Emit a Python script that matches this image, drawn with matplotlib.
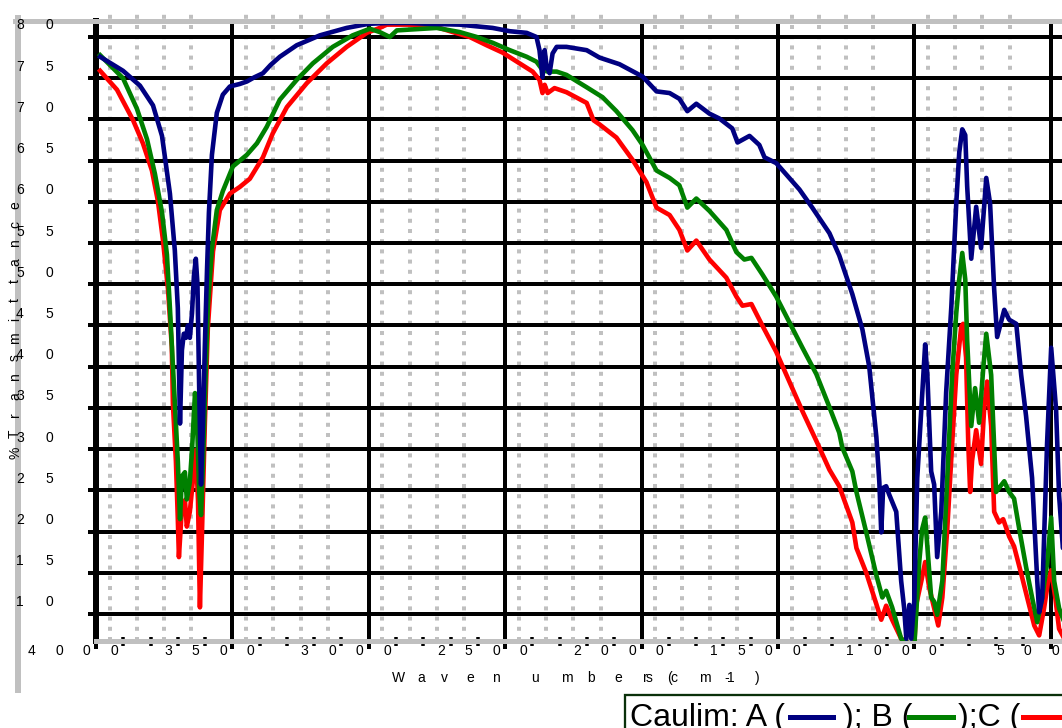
import matplotlib
matplotlib.use('Agg')
import matplotlib.pyplot as plt
import matplotlib.transforms as mtransforms
from matplotlib.lines import Line2D
from matplotlib.patches import Rectangle

plt.rcParams['font.family'] = ['Liberation Sans', 'DejaVu Sans']

# ---------------- data (wavenumber cm-1, %T) ----------------
wn_A = [3985, 3901, 3839, 3791, 3758, 3729, 3711, 3700, 3696, 3692, 3685, 3678, 3670, 3663,
        3656, 3648, 3641, 3634, 3628, 3622, 3615, 3608, 3601, 3593, 3586, 3575, 3557, 3535,
        3509, 3473, 3447, 3420, 3388, 3360, 3326, 3264, 3179, 3081, 3000, 2930, 2850, 2788,
        2667, 2546, 2483, 2421, 2385, 2374, 2366, 2363, 2355, 2348, 2337, 2326, 2311, 2275,
        2201, 2154, 2081, 1996, 1945, 1897, 1861, 1832, 1799, 1751, 1714, 1667, 1648, 1604,
        1568, 1549, 1506, 1469, 1421, 1374, 1311, 1275, 1227, 1190, 1165, 1139, 1128, 1121,
        1114, 1103, 1092, 1066, 1048, 1037, 1029, 1018, 1011, 1000, 989, 974, 960, 952, 938,
        927, 916, 901, 883, 864, 846, 835, 824, 813, 806, 791, 773, 755, 736, 722, 707, 696,
        670, 652, 626, 608, 590, 568, 549, 542, 531, 513, 498, 480, 469, 455, 430, 400]
T_A = [77.6, 75.9, 74.1, 71.7, 68.0, 61.0, 54.1, 47.1, 40.1, 33.1, 42.0, 44.0, 43.5, 45.0,
       43.5, 46.5, 51.0, 53.1, 50.0, 38.0, 25.7, 33.0, 42.4, 51.7, 58.7, 65.7, 70.8, 73.0,
       74.0, 74.3, 74.6, 75.1, 75.6, 76.6, 77.6, 79.0, 80.2, 81.1, 81.6, 81.7, 81.7, 81.6,
       81.5, 81.1, 80.7, 80.5, 80.0, 78.4, 76.0, 75.1, 78.4, 76.4, 75.6, 78.0, 78.8, 78.8,
       78.4, 77.5, 76.7, 75.2, 73.4, 73.2, 72.5, 71.0, 71.9, 70.7, 70.1, 68.9, 67.2, 68.0,
       66.9, 65.4, 64.7, 63.3, 61.5, 59.3, 56.2, 53.5, 48.8, 44.5, 40.0, 31.5, 26.0, 19.9,
       25.3, 25.5, 24.5, 22.4, 14.0, 10.7, 7.0, 11.1, 7.0, 11.5, 26.5, 34.8, 42.7, 39.0, 27.3,
       25.7, 16.9, 22.4, 36.9, 47.3, 59.8, 66.0, 68.8, 68.1, 61.9, 53.1, 59.4, 54.4, 62.9, 59.8, 49.4, 43.6,
       46.9, 45.7, 45.2, 39.0, 34.0, 26.5, 14.0, 10.2, 11.9, 30.7, 42.3, 34.8, 24.4, 18.0, 20.0, 25.0]

wn_B = [3985, 3901, 3850, 3813, 3784, 3758, 3740, 3729, 3718, 3707, 3700, 3692, 3685, 3674,
        3667, 3656, 3648, 3637, 3630, 3622, 3615, 3608, 3601, 3590, 3575, 3557, 3535, 3498,
        3447, 3410, 3374, 3326, 3264, 3205, 3132, 3059, 2996, 2960, 2923, 2897, 2850, 2751,
        2667, 2604, 2546, 2483, 2421, 2385, 2363, 2344, 2311, 2275, 2201, 2143, 2092, 2033,
        1996, 1945, 1897, 1861, 1832, 1799, 1751, 1689, 1652, 1623, 1597, 1557, 1506, 1458,
        1410, 1359, 1311, 1275, 1264, 1227, 1212, 1176, 1139, 1117, 1103, 1081, 1048, 1000,
        982, 971, 960, 952, 938, 927, 916, 897, 879, 861, 846, 835, 824, 813, 806, 791, 777,
        762, 747, 736, 718, 700, 689, 670, 652, 634, 615, 590, 568, 549, 531, 513, 498, 487,
        469, 450, 420, 400]
T_B = [77.8, 75.0, 71.3, 67.6, 63.4, 58.7, 53.6, 47.1, 40.1, 33.1, 28.5, 21.5, 26.7, 27.2,
       23.9, 26.0, 29.9, 36.8, 34.0, 25.0, 22.0, 28.0, 35.7, 47.3, 54.3, 59.0, 61.3, 64.3,
       65.7, 67.1, 69.1, 72.4, 74.8, 76.8, 78.8, 80.2, 81.0, 80.6, 80.0, 80.8, 80.9, 81.1,
       80.6, 80.0, 79.3, 78.4, 77.6, 77.0, 76.0, 75.8, 75.8, 75.4, 73.9, 72.7, 71.0, 68.7,
       66.9, 63.8, 62.9, 62.0, 59.3, 60.4, 58.9, 56.6, 53.9, 53.0, 53.2, 51.2, 48.5, 45.4,
       42.3, 39.1, 35.1, 32.0, 30.2, 27.3, 24.8, 19.9, 14.7, 12.0, 12.8, 10.8, 7.0, 6.0,
       16.2, 20.3, 21.7, 18.2, 12.0, 11.5, 9.9, 14.0, 26.5, 39.0, 46.5, 50.6, 53.8, 50.6, 43.2, 32.8, 37.4,
       33.2, 39.8, 44.0, 39.0, 24.8, 25.3, 26.1, 24.8, 24.0, 20.3, 15.7, 12.0, 9.0, 12.0, 16.1, 21.7, 14.0,
       10.7, 9.0, 12.0, 15.0]

wn_C = [3985, 3923, 3864, 3828, 3795, 3773, 3755, 3736, 3722, 3718, 3707, 3700, 3696, 3685,
        3674, 3667, 3656, 3645, 3634, 3626, 3619, 3612, 3601, 3590, 3571, 3546, 3509, 3473,
        3436, 3388, 3352, 3300, 3227, 3154, 3081, 3007, 2960, 2934, 2850, 2751, 2692, 2630,
        2568, 2509, 2447, 2399, 2374, 2363, 2355, 2344, 2319, 2275, 2201, 2176, 2154, 2092,
        2033, 1982, 1945, 1897, 1861, 1832, 1799, 1751, 1689, 1652, 1630, 1597, 1557, 1506,
        1458, 1410, 1359, 1311, 1275, 1227, 1212, 1176, 1139, 1121, 1103, 1081, 1048, 1000,
        993, 974, 960, 945, 927, 912, 897, 879, 861, 846, 828, 821, 810, 802, 795, 788, 773,
        755, 744, 733, 718, 707, 689, 674, 652, 634, 608, 586, 560, 542, 524, 509, 498, 483,
        469, 450, 420, 400]
T_C = [75.9, 73.6, 69.9, 67.1, 63.8, 60.1, 55.5, 49.4, 42.4, 35.5, 28.5, 21.5, 16.9, 22.9,
       23.8, 20.6, 22.4, 26.1, 29.9, 23.8, 10.8, 19.2, 33.0, 44.7, 54.0, 59.0, 61.0, 61.8,
       62.8, 65.4, 68.3, 71.5, 74.4, 76.8, 78.8, 80.5, 81.1, 81.5, 81.5, 81.2, 80.6, 80.0,
       79.0, 78.1, 76.8, 75.8, 74.8, 73.2, 74.2, 73.2, 73.8, 73.3, 72.0, 69.9, 69.4, 67.8,
       65.1, 62.4, 59.3, 58.4, 56.6, 54.1, 55.3, 53.0, 50.8, 48.5, 47.4, 47.6, 45.0, 41.8,
       38.2, 34.6, 31.0, 27.5, 25.5, 21.1, 18.0, 15.0, 11.2, 9.3, 11.0, 9.3, 7.0, 6.0,
       11.1, 14.0, 16.3, 13.2, 10.7, 8.6, 12.0, 20.3, 30.7, 39.0, 44.8, 45.2, 41.1, 30.7, 24.8, 28.6, 32.3,
       28.2, 34.8, 38.2, 32.8, 22.4, 21.1, 21.5, 19.4, 18.2, 14.9, 12.0, 8.6, 7.4, 10.7, 14.0, 15.3, 12.0,
       8.2, 7.0, 9.0, 12.0]

series_names = ['A', 'B', 'C']
series_colors = ['#000080', '#008000', '#ff0000']

x_major = [4000, 3500, 3000, 2500, 2000, 1500, 1000, 500]
x_minor = [3900, 3800, 3700, 3600, 3400, 3300, 3200, 3100, 2900, 2800, 2700, 2600,
           2400, 2300, 2200, 2100, 1900, 1800, 1700, 1600, 1400, 1300, 1200, 1100,
           900, 800, 700, 600]
x_dotted = [3950, 3850, 3750, 3650, 3450, 3350, 3250, 3150, 2950, 2850, 2750, 2650,
            2450, 2350, 2250, 2150, 1950, 1850, 1750, 1650, 1450, 1350, 1250, 1150,
            950, 850, 750, 650, 450]
y_ticks = [80, 75, 70, 65, 60, 55, 50, 45, 40, 35, 30, 25, 20, 15, 10]

xlabel_chars = [('W', 398), ('a', 421), ('v', 444), ('e', 470), ('n', 496), ('u', 535),
                ('m', 567), ('b', 591), ('e', 618), ('r', 645), ('s', 649), ('(', 670),
                ('c', 674), ('m', 705), ('-', 727), ('1', 731), (')', 757)]
ylabel_text = '%Transmittance'

# ---------------- figure ----------------
W, H = 1062, 728
fig = plt.figure(figsize=(W / 100, H / 100), dpi=100)


def fx(px):
    return px / W


def fy(py):
    return 1 - py / H


ax_l, ax_r, ax_t, ax_b = 96, 1077.9, 21, 641
ax = fig.add_axes([fx(ax_l), fy(ax_b), (ax_r - ax_l) / W, (ax_b - ax_t) / H])
ax.set_xlim(4000, 400)
ax.set_ylim(6.72, 81.94)
ax.set_axisbelow(True)

PX = 0.72  # points per pixel

# gray dotted vertical lines (extend above the plot)
ax.vlines(x_dotted, 0, 1.0194, transform=ax.get_xaxis_transform(), colors='#c0c0c0',
          linewidth=4 * PX, linestyles=(0, (1.0, 1.55)), clip_on=False, zorder=0.2)

# black major vertical lines
ax.vlines(x_major[1:], 0, 1, transform=ax.get_xaxis_transform(), colors='black',
          linewidth=4 * PX, zorder=0.6)

# horizontal grid
ax.set_yticks(y_ticks)
ax.yaxis.grid(True, color='black', linewidth=4 * PX)
ax.tick_params(axis='y', direction='out', length=8 * PX, width=4 * PX, color='black',
               labelleft=False)

ax.set_xticks(x_major)
ax.set_xticks(x_minor, minor=True)
ax.tick_params(axis='x', which='major', direction='out', length=8 * PX, width=4 * PX,
               color='black', labelbottom=False)
ax.tick_params(axis='x', which='minor', direction='inout', length=9 * PX, width=3.5 * PX,
               color='black')

for s in ['top', 'right']:
    ax.spines[s].set_visible(False)
ax.spines['bottom'].set_color('#c0c0c0')
ax.spines['bottom'].set_linewidth(5 * PX)
ax.spines['left'].set_color('black')
ax.spines['left'].set_linewidth(6 * PX)
ax.spines['left'].set_linestyle((0, (0.75, 0.42)))

# curves (C first so A is on top)
for wn, T, c in reversed(list(zip([wn_A, wn_B, wn_C], [T_A, T_B, T_C], series_colors))):
    ax.plot(wn, T, color=c, linewidth=4.6 * PX, solid_joinstyle='round', zorder=3)

# gray frame lines (under the texts, over the axes)
fig.add_artist(Line2D([fx(15), 1.0], [fy(21), fy(21)], transform=fig.transFigure,
                      color='#c0c0c0', linewidth=5 * PX, zorder=1))
fig.add_artist(Line2D([fx(18), fx(18)], [fy(18), fy(690)], transform=fig.transFigure,
                      color='#c0c0c0', linewidth=6 * PX, zorder=1))

# x tick labels: spaced digits
for v in x_major:
    s = str(v)
    n = len(s)
    for i, ch in enumerate(s):
        dx = -23 + (i - (n - 1) / 2) * 27.5
        tr = mtransforms.offset_copy(ax.get_xaxis_transform(), fig=fig, x=dx, y=0, units='dots')
        ax.text(v, (ax_b - 655) / (ax_b - ax_t), ch, transform=tr, ha='center', va='baseline',
                fontsize=10, color='black', clip_on=False)

# y tick labels: spaced digits, drawn at figure level so they sit above the gray frame
for v in y_ticks:
    s = str(v)
    y_disp = ax.transData.transform((4000, v))[1] + 7.5
    for ch, px in zip(s, [20, 49]):
        fig.text(fx(px), y_disp / H, ch, ha='center', va='baseline', fontsize=10,
                 color='black', zorder=3)

# x axis label
for ch, px in xlabel_chars:
    fig.text(fx(px), fy(682), ch, ha='center', va='baseline', fontsize=10, color='black')

# y axis label (rotated letters)
n = len(ylabel_text)
for i, ch in enumerate(ylabel_text):
    py = 453 - i * (453 - 205) / (n - 1)
    fig.text(fx(15), fy(py), ch, rotation=90, ha='center', va='center', fontsize=10,
             color='black', zorder=3)

# legend box (cropped at the figure edge)
fig.add_artist(Rectangle((fx(625), fy(760)), fx(1100) - fx(625), fy(695) - fy(760),
                         transform=fig.transFigure, facecolor='white', edgecolor='#0a300a',
                         linewidth=2.3 * PX, zorder=6))
fig.text(fx(630), fy(726), 'Caulim: A (', fontsize=23, ha='left', va='baseline', zorder=7)
fig.add_artist(Line2D([fx(790), fx(833)], [fy(717), fy(717)], transform=fig.transFigure,
                      color=series_colors[0], linewidth=5 * PX, zorder=7))
fig.text(fx(843), fy(726), '); B (', fontsize=23, ha='left', va='baseline', zorder=7)
fig.add_artist(Line2D([fx(909), fx(953)], [fy(717), fy(717)], transform=fig.transFigure,
                      color=series_colors[1], linewidth=5 * PX, zorder=7))
fig.text(fx(958), fy(726), ');C (', fontsize=23, ha='left', va='baseline', zorder=7)
fig.add_artist(Line2D([fx(1023), fx(1080)], [fy(717), fy(717)], transform=fig.transFigure,
                      color=series_colors[2], linewidth=5 * PX, zorder=7))

fig.savefig('out.png', dpi=100)
